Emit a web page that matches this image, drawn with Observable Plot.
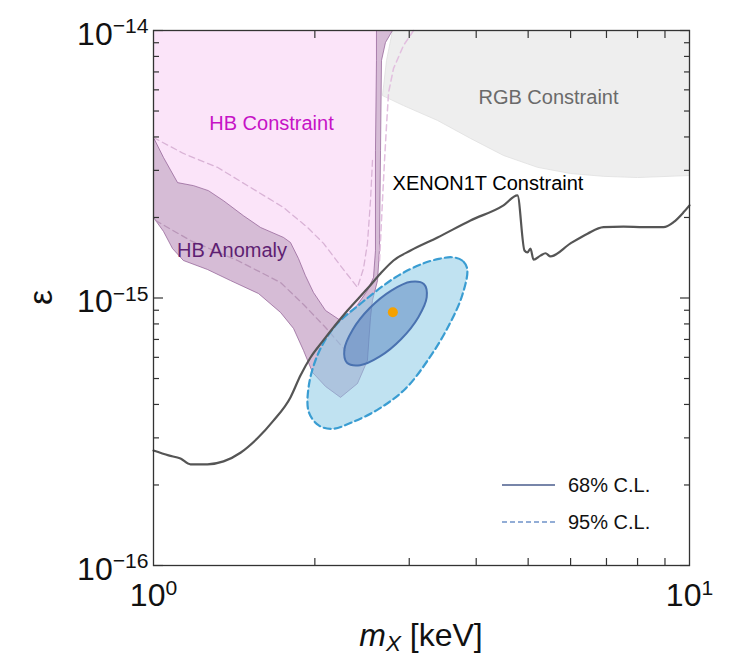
<!DOCTYPE html>
<html><head><meta charset="utf-8">
<script src="https://cdn.jsdelivr.net/npm/d3@7"></script>
<script src="https://cdn.jsdelivr.net/npm/@observablehq/plot@0.6"></script>
<style>body{margin:0;background:#fff;} #chart svg{font-family:"Liberation Sans",Arial,sans-serif;}</style>
</head><body><div id="chart"></div>
<script>
// XENON1T constraint curve
const xenonMass = [1.0, 1.067, 1.123, 1.172, 1.261, 1.351, 1.453, 1.563, 1.674, 1.801, 1.880, 1.963, 2.067, 2.301, 2.507, 2.652, 2.804, 3.017, 3.388, 3.903, 4.498, 4.776, 4.922, 4.985, 5.050, 5.117, 5.272, 5.387, 5.504, 5.998, 6.452, 6.910, 7.532, 8.210, 8.944, 9.335, 9.745, 10.0];
const xenonEps = [2.69e-16, 2.58e-16, 2.51e-16, 2.39e-16, 2.39e-16, 2.45e-16, 2.64e-16, 2.99e-16, 3.48e-16, 4.25e-16, 5.13e-16, 5.99e-16, 6.88e-16, 8.98e-16, 1.085e-15, 1.235e-15, 1.381e-15, 1.505e-15, 1.684e-15, 1.949e-15, 2.22e-15, 2.42e-15, 1.505e-15, 1.48e-15, 1.53e-15, 1.39e-15, 1.44e-15, 1.47e-15, 1.43e-15, 1.60e-15, 1.74e-15, 1.84e-15, 1.85e-15, 1.84e-15, 1.84e-15, 1.92e-15, 2.09e-15, 2.22e-15];

// RGB constraint region
const rgbMass = [2.792, 2.721, 2.674, 2.927, 3.388, 3.903, 4.498, 5.205, 5.998, 6.910, 7.998, 10.0, 10.0];
const rgbEps = [1e-14, 7.72e-15, 5.71e-15, 5.24e-15, 4.61e-15, 3.95e-15, 3.41e-15, 3.08e-15, 2.92e-15, 2.85e-15, 2.82e-15, 2.87e-15, 1e-14];

// HB constraint region
const hbcMass = [1.0, 2.606, 2.606, 2.595, 2.595, 2.573, 2.507, 2.361, 2.233, 2.094, 1.988, 1.920, 1.864, 1.801, 1.748, 1.584, 1.472, 1.351, 1.266, 1.188, 1.109, 1.044, 1.0];
const hbcEps = [1e-14, 1e-14, 7.72e-15, 3.56e-15, 1.505e-15, 1.193e-15, 1.067e-15, 8.98e-16, 8.24e-16, 8.98e-16, 1.049e-15, 1.214e-15, 1.405e-15, 1.613e-15, 1.684e-15, 1.835e-15, 2.03e-15, 2.31e-15, 2.52e-15, 2.63e-15, 2.70e-15, 3.35e-15, 3.98e-15];

// HB anomaly region
const hbaMass = [1.0, 1.044, 1.109, 1.188, 1.266, 1.351, 1.472, 1.584, 1.748, 1.801, 1.864, 1.920, 1.988, 2.094, 2.233, 2.361, 2.507, 2.573, 2.595, 2.595, 2.606, 2.606, 2.792, 2.709, 2.663, 2.652, 2.640, 2.618, 2.562, 2.540, 2.507, 2.402, 2.233, 2.094, 1.980, 1.905, 1.825, 1.726, 1.570, 1.392, 1.261, 1.137, 1.085, 1.044, 1.0];
const hbaEps = [3.98e-15, 3.35e-15, 2.70e-15, 2.63e-15, 2.52e-15, 2.31e-15, 2.03e-15, 1.835e-15, 1.684e-15, 1.613e-15, 1.405e-15, 1.214e-15, 1.049e-15, 8.98e-16, 8.24e-16, 8.98e-16, 1.067e-15, 1.193e-15, 1.505e-15, 3.56e-15, 7.72e-15, 1e-14, 1e-14, 9.02e-15, 7.72e-15, 3.56e-15, 1.505e-15, 1.162e-15, 9.79e-16, 8.46e-16, 5.84e-16, 4.79e-16, 4.25e-16, 4.67e-16, 5.27e-16, 6.36e-16, 7.69e-16, 8.83e-16, 1.039e-15, 1.162e-15, 1.278e-15, 1.381e-15, 1.531e-15, 1.773e-15, 2.0e-15];

// faint dashed curves
const dash1Mass = [1.0, 1.137, 1.316, 1.517, 1.748, 1.938, 2.076, 2.233, 2.402, 2.465, 2.507, 2.540, 2.562];
const dash1Eps = [3.98e-15, 3.47e-15, 3.08e-15, 2.59e-15, 2.18e-15, 1.835e-15, 1.60e-15, 1.32e-15, 1.095e-15, 1.29e-15, 1.60e-15, 2.31e-15, 3.27e-15];
const dash2Mass = [3.056, 2.927, 2.804, 2.745, 2.721, 2.698, 2.674, 2.652, 2.640];
const dash2Eps = [1e-14, 8.79e-15, 7.21e-15, 5.86e-15, 4.41e-15, 3.27e-15, 2.31e-15, 1.64e-15, 1.36e-15];
const dash3Mass = [1.009, 1.172, 1.435, 1.726, 1.905, 2.094, 2.281];
const dash3Eps = [1.949e-15, 1.64e-15, 1.381e-15, 1.143e-15, 9.46e-16, 7.76e-16, 6.36e-16];

// 95% and 68% C.L. contours, best fit
const cl95Mass = [3.848, 3.766, 3.608, 3.406, 3.172, 2.829, 2.452, 2.186, 2.034, 1.949, 1.949, 2.034, 2.155, 2.348, 2.633, 2.952, 3.264, 3.556, 3.766];
const cl95Eps = [1.286e-15, 1.381e-15, 1.42e-15, 1.40e-15, 1.342e-15, 1.196e-15, 9.64e-16, 7.89e-16, 6.27e-16, 4.71e-16, 3.74e-16, 3.34e-16, 3.24e-16, 3.43e-16, 3.85e-16, 4.58e-16, 5.93e-16, 7.89e-16, 1.022e-15];
const cl68Mass = [3.197, 3.234, 3.120, 2.899, 2.645, 2.429, 2.296, 2.270, 2.353, 2.532, 2.777, 3.022];
const cl68Eps = [1.126e-15, 1.007e-15, 8.48e-16, 7.03e-16, 6.05e-16, 5.61e-16, 5.73e-16, 6.40e-16, 7.61e-16, 9.17e-16, 1.066e-15, 1.150e-15];
const bestMass = [2.796];
const bestEps = [8.85e-16];

// annotations
const labelText = ["HB Constraint", "HB Anomaly", "RGB Constraint", "XENON1T Constraint"];
const labelMass = [1.660, 1.401, 5.457, 4.208];
const labelEps = [4.49e-15, 1.505e-15, 5.62e-15, 2.68e-15];
const labelColor = ["#c612c6", "#5e1f72", "#6a6a6a", "#000000"];

// ticks
const xMajor = [1, 10];
const xMinor = [2, 3, 4, 5, 6, 7, 8, 9];
const yMajor = [1e-16, 1e-15, 1e-14];
const yMinor = [2e-16, 3e-16, 4e-16, 5e-16, 6e-16, 7e-16, 8e-16, 9e-16, 2e-15, 3e-15, 4e-15, 5e-15, 6e-15, 7e-15, 8e-15, 9e-15];

const zip = (xs, ys) => xs.map((x, i) => ({x, y: ys[i]}));
const xenon = zip(xenonMass, xenonEps);
const rgb = zip(rgbMass, rgbEps);
const hbc = zip(hbcMass, hbcEps);
const hba = zip(hbaMass, hbaEps);
const d1 = zip(dash1Mass, dash1Eps), d2 = zip(dash2Mass, dash2Eps), d3s = zip(dash3Mass, dash3Eps);
const c95 = zip(cl95Mass, cl95Eps), c68 = zip(cl68Mass, cl68Eps);
const best = zip(bestMass, bestEps);
const labels = labelText.map((t, i) => ({t, x: labelMass[i], y: labelEps[i], c: labelColor[i]}));

const W = 733, H = 660, mL = 153, mT = 30, mR = 44, mB = 95;
const expFmt = d => { const e = Math.round(Math.log10(d)); return e < 0 ? "\u2212" + (-e) : String(e); };
const tickStyle = {stroke: "#333", strokeWidth: 1.2, label: null, tickFormat: () => ""};

const plot = Plot.plot({
  width: W, height: H,
  marginLeft: mL, marginTop: mT, marginRight: mR, marginBottom: mB,
  x: {type: "log", domain: [1, 10]},
  y: {type: "log", domain: [1e-16, 1e-14]},
  style: {fontFamily: "Liberation Sans, Arial, sans-serif", background: "#fff", color: "#111"},
  marks: [
    Plot.line(rgb, {x: "x", y: "y", fill: "#eeeeee", stroke: "#e0e0e0", strokeWidth: 0.8}),
    Plot.line(hbc, {x: "x", y: "y", fill: "#fbe4f9", stroke: "none"}),
    Plot.line(hba, {x: "x", y: "y", fill: "#a56aa5", fillOpacity: 0.45, stroke: "#85508a", strokeOpacity: 0.65, strokeWidth: 1}),
    Plot.line(d1, {x: "x", y: "y", stroke: "#d9b3d6", strokeWidth: 1.3, strokeDasharray: "6,4"}),
    Plot.line(d2, {x: "x", y: "y", stroke: "#e2bfdf", strokeWidth: 1.5, strokeDasharray: "6,4"}),
    Plot.line(d3s, {x: "x", y: "y", stroke: "#b996b8", strokeWidth: 1.3, strokeDasharray: "6,4"}),
    Plot.line(c95, {x: "x", y: "y", curve: "catmull-rom-closed", fill: "#8ccbe6", fillOpacity: 0.55, stroke: "#3a9dd2", strokeWidth: 2.2, strokeDasharray: "7,4"}),
    Plot.line(c68, {x: "x", y: "y", curve: "catmull-rom-closed", fill: "#3f6fb5", fillOpacity: 0.4, stroke: "#4a72b0", strokeWidth: 2}),
    Plot.line(xenon, {x: "x", y: "y", curve: "monotone-x", stroke: "#555", strokeWidth: 2.2}),
    Plot.dot(best, {x: "x", y: "y", r: 5, fill: "#f5a100", stroke: "none"}),
    Plot.text(labels, {x: "x", y: "y", text: "t", fill: "c", fontSize: 20, textAnchor: "middle", lineAnchor: "middle"}),
    Plot.frame({stroke: "#333", strokeWidth: 1.3}),
    Plot.axisX(xMinor, {anchor: "bottom", tickSize: -7, ...tickStyle}),
    Plot.axisX(xMinor, {anchor: "top", tickSize: -7, ...tickStyle}),
    Plot.axisY(yMajor, {anchor: "left", tickSize: -10, ...tickStyle}),
    Plot.axisY(yMajor, {anchor: "right", tickSize: -10, ...tickStyle}),
    Plot.axisY(yMinor, {anchor: "left", tickSize: -6, ...tickStyle}),
    Plot.axisY(yMinor, {anchor: "right", tickSize: -6, ...tickStyle}),
    Plot.axisX(xMajor, {anchor: "bottom", tickSize: 0, tickPadding: 18, fontSize: 32, label: null, tickFormat: expFmt}),
    Plot.axisY(yMajor, {anchor: "left", tickSize: 0, tickPadding: 5, fontSize: 32, dy: 4, label: null, tickFormat: expFmt})
  ]
});
document.getElementById("chart").appendChild(plot);

const NS = "http://www.w3.org/2000/svg";
function el(parent, tag, attrs, text) {
  const e = document.createElementNS(NS, tag);
  for (const k in attrs) if (attrs[k] != null) e.setAttribute(k, attrs[k]);
  if (text != null) e.textContent = text;
  parent.appendChild(e);
  return e;
}
plot.querySelectorAll('g[aria-label="x-axis tick label"] text, g[aria-label="y-axis tick label"] text').forEach(t => {
  const e = t.textContent;
  if (!e) return;
  t.textContent = "";
  el(t, "tspan", {}, "10");
  el(t, "tspan", {dy: "-0.55em", "font-size": "0.66em"}, e);
});

const fL = mL, fR = W - mR, fT = mT, fB = H - mB;
// y title
el(plot, "text", {transform: `translate(40,${(fT + fB) / 2}) rotate(-90)`, "text-anchor": "middle", dy: "0.35em", "font-size": 34, fill: "#111"}, "\u03B5");
// x title
const xt = el(plot, "text", {x: (fL + fR) / 2, y: H - 14, "text-anchor": "middle", "font-size": 32, fill: "#111"});
el(xt, "tspan", {"font-style": "italic"}, "m");
el(xt, "tspan", {"font-style": "italic", "font-size": "0.7em", dy: "0.22em"}, "X");
el(xt, "tspan", {dy: "-0.16em"}, " [keV]");
// legend
const items = [{t: "68% C.L.", c: "#4a5d8c", dash: null, dy: 80}, {t: "95% C.L.", c: "#6f93c9", dash: "5,3", dy: 43}];
items.forEach(it => {
  el(plot, "line", {x1: fR - 187, x2: fR - 134, y1: fB - it.dy, y2: fB - it.dy, stroke: it.c, "stroke-width": 1.5, "stroke-dasharray": it.dash});
  el(plot, "text", {x: fR - 121, y: fB - it.dy + 7, "text-anchor": "start", "font-size": 20, fill: "#111"}, it.t);
});
</script>
</body></html>
